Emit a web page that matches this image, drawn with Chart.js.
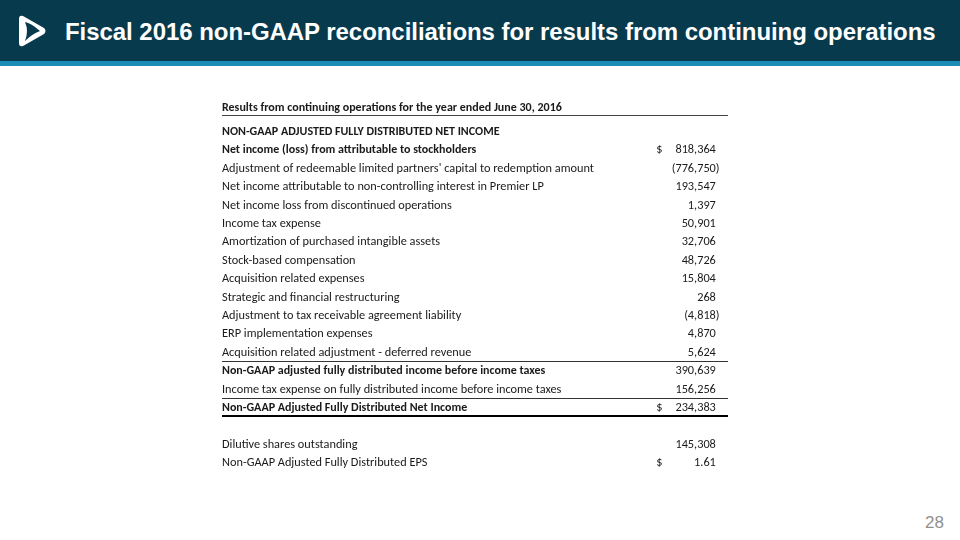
<!DOCTYPE html>
<html>
<head>
<meta charset="utf-8">
<script src="https://cdn.jsdelivr.net/npm/chart.js@4"></script>
<style>
  html, body { margin: 0; padding: 0; background: #fff; }
  #page { position: relative; width: 960px; height: 540px; overflow: hidden; }
  #bar { position: absolute; left: 0; top: 0; width: 960px; height: 61px; background: #083a4e; }
  #stripe { position: absolute; left: 0; top: 61px; width: 960px; height: 5px; background: #1b8db4; }
  #logo { position: absolute; left: 16px; top: 14px; }
  #title { position: absolute; left: 65px; top: 15px; line-height: 34px; color: #fff;
           font-family: "Liberation Sans", Arial, sans-serif; font-weight: bold; font-size: 24px;
           letter-spacing: -0.05px; white-space: nowrap; }
  #pageno { position: absolute; right: 16px; top: 513px; color: #8f8f8f;
            font-family: "Liberation Sans", Arial, sans-serif; font-size: 17px; }
  canvas { position: absolute; left: 0; top: 0; }
</style>
</head>
<body>
<div id="page">
  <div id="bar"></div>
  <div id="stripe"></div>
  <svg id="logo" width="32" height="34" viewBox="0 0 32 34">
    <path d="M3 5 Q3 1 7 2 L28 14 Q31 17 28 20 L7 32 Q3 33 3 29 Z" fill="#fff"/>
    <path d="M9 8 Q15 9 24 17 Q16 20 9 27 Q13 17 9 8 Z" fill="#083a4e"/>
  </svg>
  <div id="title">Fiscal 2016 non-GAAP reconciliations for results from continuing operations</div>
  <div id="pageno">28</div>
  <canvas id="tableChart" width="960" height="540"></canvas>
</div>
<script>
const tableTitle = 'Results from continuing operations for the year ended June 30, 2016';

const rowLabels = [
    'NON-GAAP ADJUSTED FULLY DISTRIBUTED NET INCOME',
    'Net income (loss) from attributable to stockholders',
    "Adjustment of redeemable limited partners' capital to redemption amount",
    'Net income attributable to non-controlling interest in Premier LP',
    'Net income loss from discontinued operations',
    'Income tax expense',
    'Amortization of purchased intangible assets',
    'Stock-based compensation',
    'Acquisition related expenses',
    'Strategic and financial restructuring',
    'Adjustment to tax receivable agreement liability',
    'ERP implementation expenses',
    'Acquisition related adjustment - deferred revenue',
    'Non-GAAP adjusted fully distributed income before income taxes',
    'Income tax expense on fully distributed income before income taxes',
    'Non-GAAP Adjusted Fully Distributed Net Income',
    '',
    'Dilutive shares outstanding',
    'Non-GAAP Adjusted Fully Distributed EPS'
];

const rowValues = [null, 818364, -776750, 193547, 1397, 50901, 32706, 48726, 15804,
    268, -4818, 4870, 5624, 390639, 156256, 234383, null, 145308, 1.61];

const dollarRows = [1, 15, 18];
const boldRows = [0, 1, 13, 15];
const thinRuleRows = [12, 14];
const thickRuleRows = [15];

function formatValue(v) {
    if (v === null) return '';
    const digits = Number.isInteger(v) ? 0 : 2;
    const s = Math.abs(v).toLocaleString('en-US', { minimumFractionDigits: digits, maximumFractionDigits: digits });
    return v < 0 ? '(' + s + ')' : s;
}

const VALUE_COL = 97.6;
const DOLLAR_COL = 85.8;

const tablePlugin = {
    id: 'tableText',
    afterDatasetsDraw(chart) {
        const ctx = chart.ctx;
        const area = chart.chartArea;
        const y = chart.scales.y;
        const x = chart.scales.x;
        const font = (bold) => (bold ? 'bold 12px' : '12.3px') + ' Carlito, Lato, sans-serif';
        ctx.save();
        ctx.fillStyle = '#1a1a1a';
        ctx.textBaseline = 'middle';

        // header row above the table body
        const titleY = y.getPixelForValue(0) - 24;
        ctx.font = font(true);
        ctx.textAlign = 'left';
        ctx.fillText(tableTitle, area.left, titleY);
        ctx.strokeStyle = '#444';
        ctx.lineWidth = 1;
        ctx.beginPath();
        ctx.moveTo(area.left, Math.round(titleY + 7) + 0.5);
        ctx.lineTo(area.right, Math.round(titleY + 7) + 0.5);
        ctx.stroke();

        const meta = chart.getDatasetMeta(0);
        meta.data.forEach((pt, i) => {
            const py = pt.y;
            ctx.font = font(boldRows.includes(i));
            ctx.textAlign = 'left';
            ctx.fillText(rowLabels[i], area.left, py);

            ctx.font = font(false);
            if (dollarRows.includes(i)) {
                ctx.textAlign = 'left';
                ctx.fillText('$', x.getPixelForValue(DOLLAR_COL), py);
            }
            const v = rowValues[i];
            const txt = formatValue(v);
            if (txt) {
                ctx.textAlign = 'right';
                const right = pt.x + (v < 0 ? ctx.measureText(')').width : 0);
                ctx.fillText(txt, right, py);
            }
        });

        const half = (y.getPixelForValue(1) - y.getPixelForValue(0)) / 2;
        thinRuleRows.forEach((i) => {
            const ly = Math.round(y.getPixelForValue(i) + half - 1) + 0.5;
            ctx.strokeStyle = '#333';
            ctx.lineWidth = 1;
            ctx.beginPath();
            ctx.moveTo(area.left, ly);
            ctx.lineTo(area.right, ly);
            ctx.stroke();
        });
        thickRuleRows.forEach((i) => {
            const ly = Math.round(y.getPixelForValue(i) + half - 1);
            ctx.strokeStyle = '#000';
            ctx.lineWidth = 2;
            ctx.beginPath();
            ctx.moveTo(area.left, ly);
            ctx.lineTo(area.right, ly);
            ctx.stroke();
        });
        ctx.restore();
    }
};

new Chart(document.getElementById('tableChart'), {
    type: 'scatter',
    data: {
        labels: rowLabels.map((l, i) => 'r' + i),
        datasets: [{
            data: rowLabels.map((l, i) => ({ x: VALUE_COL, y: i })),
            pointRadius: 0,
            pointHoverRadius: 0
        }]
    },
    options: {
        responsive: false,
        animation: false,
        events: [],
        layout: { padding: { left: 222, right: 232, top: 132, bottom: 77 } },
        plugins: { legend: { display: false }, tooltip: { enabled: false } },
        scales: {
            x: { type: 'linear', min: 0, max: 100, display: false },
            y: { type: 'category', offset: false, display: false }
        }
    },
    plugins: [tablePlugin]
});
</script>
</body>
</html>
